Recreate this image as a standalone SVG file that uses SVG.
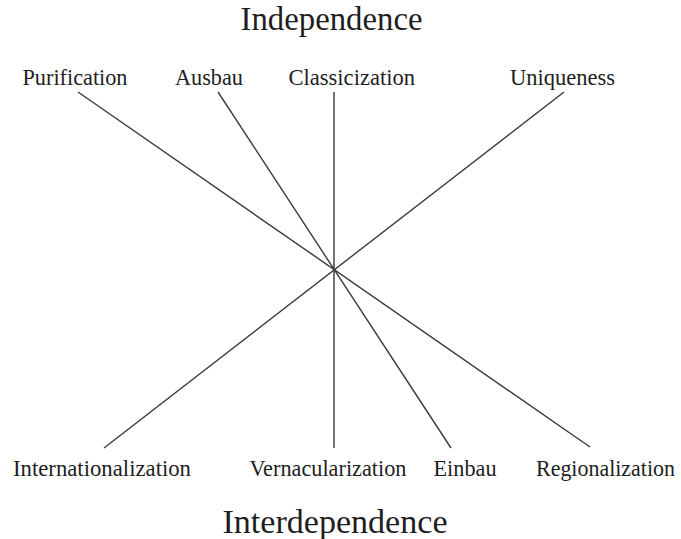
<svg xmlns="http://www.w3.org/2000/svg" width="681" height="539" viewBox="0 0 681 539">
  <style>
    text { font-family: "Liberation Serif", "Times New Roman", serif; fill: #1e1e1e; }
    .lbl { font-size: 22.5px; }
    .title { font-size: 33px; }
    .conn line { stroke: #3a3a3a; stroke-width: 1.4; fill: none; }
  </style>
  <rect width="681" height="539" fill="#ffffff"/>

  <!-- axis titles -->
  <g id="independence"><text class="title" x="240.5" y="30" textLength="182" lengthAdjust="spacingAndGlyphs">Independence</text></g>
  <g id="interdependence"><text class="title" x="222.5" y="533" textLength="225" lengthAdjust="spacingAndGlyphs">Interdependence</text></g>

  <!-- four lines crossing at the centre (334, 270) -->
  <g class="conn" id="connectors">
    <line x1="78" y1="92" x2="590" y2="447"/>
    <line x1="218" y1="92" x2="451" y2="448"/>
    <line x1="334" y1="92" x2="334" y2="448"/>
    <line x1="564" y1="92" x2="104" y2="448"/>
  </g>

  <!-- upper labels -->
  <g id="purification"><text class="lbl" x="22.5" y="85" textLength="105" lengthAdjust="spacingAndGlyphs">Purification</text></g>
  <g id="ausbau"><text class="lbl" x="175" y="85" textLength="68" lengthAdjust="spacingAndGlyphs">Ausbau</text></g>
  <g id="classicization"><text class="lbl" x="288.5" y="85" textLength="126.5" lengthAdjust="spacingAndGlyphs">Classicization</text></g>
  <g id="uniqueness"><text class="lbl" x="510" y="85" textLength="105" lengthAdjust="spacingAndGlyphs">Uniqueness</text></g>

  <!-- lower labels -->
  <g id="internationalization"><text class="lbl" x="13" y="476" textLength="178" lengthAdjust="spacingAndGlyphs">Internationalization</text></g>
  <g id="vernacularization"><text class="lbl" x="249.5" y="476" textLength="157" lengthAdjust="spacingAndGlyphs">Vernacularization</text></g>
  <g id="einbau"><text class="lbl" x="433.5" y="476" textLength="63" lengthAdjust="spacingAndGlyphs">Einbau</text></g>
  <g id="regionalization"><text class="lbl" x="536" y="476" textLength="139" lengthAdjust="spacingAndGlyphs">Regionalization</text></g>
</svg>
